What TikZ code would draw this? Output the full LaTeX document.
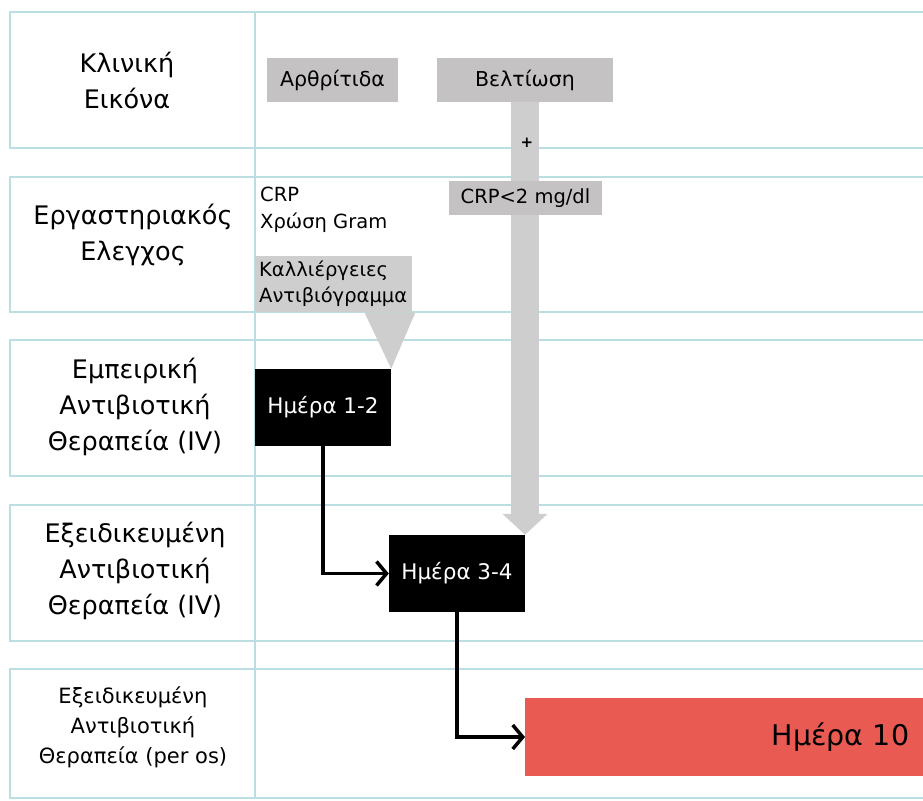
\documentclass[tikz,border=0pt]{standalone}
\usepackage{fontspec}
\setmainfont{DejaVu Sans}
\usetikzlibrary{arrows.meta,positioning}

\definecolor{gridteal}{RGB}{186,222,226}
\definecolor{boxgray}{RGB}{196,194,194}
\definecolor{bargray}{RGB}{206,206,206}
\definecolor{dayred}{RGB}{233,90,82}

\tikzset{
  rowframe/.style={draw=gridteal, line width=2.8pt},
  rowlabel/.style={align=center, font=\fontsize{25.5}{36}\selectfont},
  smalllabel/.style={align=center, font=\fontsize{21}{30}\selectfont},
  graybox/.style={fill=boxgray, minimum height=44pt, font=\fontsize{20.5}{23}\selectfont},
  labtext/.style={align=left, inner sep=0pt, font=\fontsize{19.5}{27}\selectfont},
  cultbox/.style={fill=bargray, anchor=north west, align=left, text width=149pt,
    inner xsep=4pt, inner ysep=3pt, minimum height=56pt, font=\fontsize{19.5}{26}\selectfont},
  daybox/.style={fill=black, text=white, minimum width=136pt, minimum height=77pt,
    font=\fontsize{21.5}{23}\selectfont},
  steparrow/.style={line width=3.5pt, -{Straight Barb[length=10pt,width=24pt]}},
  bigarrow/.style={draw=bargray, line width=28pt, -{Triangle[length=21pt,width=44pt]}}
}

\begin{document}
\begin{tikzpicture}[x=1pt, y=-1pt]
  \useasboundingbox (0,0) rectangle (923,800);

  % rows of the table
  \foreach \rtop/\rbot in {12/148,177/312,340/476,505/641,669/798}
    \draw[rowframe] (923,\rtop) -| (10,\rbot) -- (923,\rbot);
  \draw[rowframe] (255,12) -- (255,798);

  % row headings
  \node[rowlabel] (clin) at (127,80) {Κλινική\\Εικόνα};
  \node[rowlabel] (lab) at (133,235) {Εργαστηριακός\\Ελεγχος};
  \node[rowlabel] (emp) at (135,407) {Εμπειρική\\Αντιβιοτική\\Θεραπεία (IV)};
  \node[rowlabel] (spec) at (135,571) {Εξειδικευμένη\\Αντιβιοτική\\Θεραπεία (IV)};
  \node[smalllabel] (oral) at (133,727) {Εξειδικευμένη\\Αντιβιοτική\\Θεραπεία (per os)};

  % clinical picture
  \node[graybox, minimum width=131pt] (arth) at (332.5,80) {Αρθρίτιδα};
  \node[graybox, minimum width=176pt] (better) at (525,80) {Βελτίωση};

  % lab work
  \node[labtext, anchor=north west] (crp) at (260,187) {CRP\\Χρώση Gram};
  \node[cultbox] (cult) at (255,256) {Καλλιέργειες\\Αντιβιόγραμμα};

  % days
  \node[daybox] (d12) at (323,407.5) {Ημέρα 1-2};
  \node[daybox] (d34) at (457,573.5) {Ημέρα 3-4};
  \node[fill=dayred, anchor=west, minimum height=78pt, text width=370pt, align=right,
    inner xsep=14pt, font=\fontsize{28.5}{30}\selectfont] (d10) at (525,737) {Ημέρα 10};

  \fill[bargray] ([xshift=-48pt]cult.south east) -- ([xshift=3pt]cult.south east)
    -- (d12.north east) -- cycle;

  \draw[bigarrow] (better.south) -- (better.south |- d34.north);
  \node[font=\bfseries\fontsize{15}{18}\selectfont] (plus) at (527,143) {+};
  \node[graybox, minimum width=153pt, minimum height=34pt,
    font=\fontsize{19.5}{23}\selectfont] (crp2) at (525.5,198) {CRP<2 mg/dl};

  \draw[steparrow] (d12.south) |- (d34.west);
  \draw[steparrow] (d34.south) |- (d10.west);
\end{tikzpicture}
\end{document}
